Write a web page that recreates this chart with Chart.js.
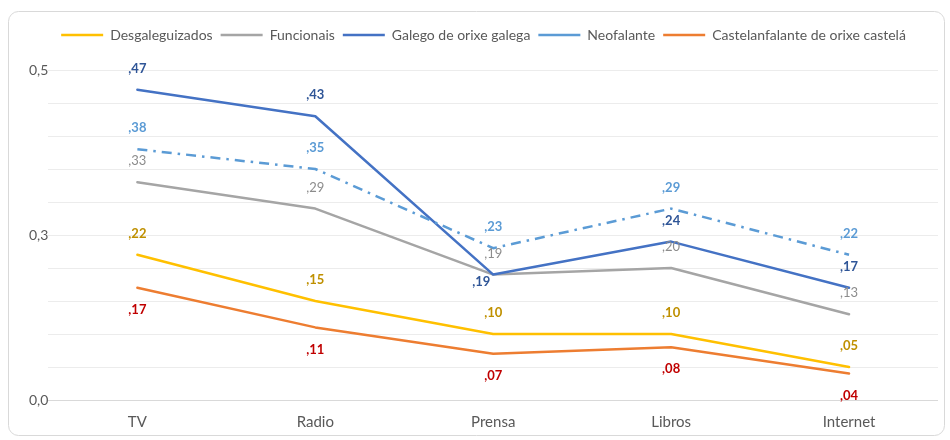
<!DOCTYPE html>
<html>
<head>
<meta charset="utf-8">
<script src="https://cdn.jsdelivr.net/npm/chart.js@4/dist/chart.umd.min.js"></script>
<style>
  html, body { margin: 0; padding: 0; background: #ffffff; }
  #wrap { position: relative; width: 950px; height: 440px; }
</style>
</head>
<body>
<div id="wrap"><canvas id="chart" width="950" height="440"></canvas></div>
<script>
// Media categories
const categories = ['TV', 'Radio', 'Prensa', 'Libros', 'Internet'];

// Share per profile and medium
const desgaleguizados = [0.22, 0.15, 0.10, 0.10, 0.05];
const funcionais      = [0.33, 0.29, 0.19, 0.20, 0.13];
const galegoOrixe     = [0.47, 0.43, 0.19, 0.24, 0.17];
const neofalante      = [0.38, 0.35, 0.23, 0.29, 0.22];
const castelanOrixe   = [0.17, 0.11, 0.07, 0.08, 0.04];

// Y axis: gridline every 0.05, labelled ticks only
const yTickValues = [0, 0.25, 0.5];
const yTickLabels = ['0,0', '0,3', '0,5'];

const FONT = 'Lato, "Liberation Sans", sans-serif';

function fmtShare(v) {
  return v.toFixed(2).replace(/^0\./, ',');
}

// Value labels drawn next to each point
const valueLabels = {
  id: 'valueLabels',
  afterDatasetsDraw(chart) {
    const ctx = chart.ctx;
    chart.data.datasets.forEach((ds, di) => {
      const meta = chart.getDatasetMeta(di);
      const lab = ds.valueLabel;
      meta.data.forEach((pt, i) => {
        let dx = 0, dy = lab.below ? 22 : -21;
        if (lab.shift && lab.shift[i]) { dx = lab.shift[i][0]; dy = lab.shift[i][1]; }
        ctx.save();
        ctx.font = (lab.bold ? 'bold ' : '') + '13px ' + FONT;
        ctx.fillStyle = lab.color;
        ctx.textAlign = 'center';
        ctx.textBaseline = 'middle';
        ctx.fillText(fmtShare(ds.data[i]), pt.x + dx, pt.y + dy);
        ctx.restore();
      });
    });
  }
};

// Extra space between the legend and the plot area
const legendGap = {
  id: 'legendGap',
  beforeUpdate(chart) {
    const lg = chart.legend;
    if (lg && !lg._gapPatched) {
      const fit = lg.fit;
      lg.fit = function () { fit.call(this); this.height += 18; };
      lg._gapPatched = true;
    }
  }
};

// Rounded frame around the chart
const frame = {
  id: 'frame',
  beforeDraw(chart) {
    const ctx = chart.ctx;
    ctx.save();
    ctx.fillStyle = '#ffffff';
    ctx.fillRect(0, 0, chart.width, chart.height);
    ctx.strokeStyle = '#d9d9d9';
    ctx.lineWidth = 1;
    ctx.beginPath();
    ctx.roundRect(8.5, 11.5, 936, 424, 10);
    ctx.stroke();
    ctx.restore();
  }
};

function series(label, data, color, labelColor, extra) {
  return Object.assign({
    label: label,
    data: data,
    borderColor: color,
    backgroundColor: color,
    borderWidth: 2.5,
    pointRadius: 0,
    pointHoverRadius: 0,
    tension: 0,
    fill: false,
    borderJoinStyle: 'round',
    borderCapStyle: 'round',
    valueLabel: { color: labelColor, bold: true }
  }, extra || {});
}

const datasets = [
  series('Desgaleguizados', desgaleguizados, '#FFC000', '#BF9000', { order: 5 }),
  series('Funcionais', funcionais, '#A5A5A5', '#8c8c8c', { order: 4, valueLabel: { color: '#8c8c8c', bold: false } }),
  series('Galego de orixe galega', galegoOrixe, '#4472C4', '#2F5597', {
    order: 3,
    valueLabel: { color: '#2F5597', bold: true, shift: { 2: [-12, 7] } }
  }),
  series('Neofalante', neofalante, '#5B9BD5', '#5B9BD5', { order: 2, borderDash: [10, 6, 2.5, 6], borderCapStyle: 'butt' }),
  series('Castelanfalante de orixe castelá', castelanOrixe, '#ED7D31', '#C00000', {
    order: 1,
    valueLabel: { color: '#C00000', bold: true, below: true }
  })
];

new Chart(document.getElementById('chart'), {
  type: 'line',
  data: { labels: categories, datasets: datasets },
  plugins: [frame, legendGap, valueLabels],
  options: {
    responsive: false,
    animation: false,
    events: [],
    layout: { padding: { left: 29, right: 12, top: 20, bottom: -4 } },
    plugins: {
      tooltip: { enabled: false },
      legend: {
        position: 'top',
        labels: {
          usePointStyle: true,
          pointStyleWidth: 42,
          pointStyle: 'line',
          boxHeight: 14,
          padding: 8,
          color: '#595959',
          font: { family: FONT, size: 14 },
          sort: (a, b) => a.datasetIndex - b.datasetIndex
        }
      }
    },
    scales: {
      x: {
        offset: true,
        grid: { display: false, drawTicks: false },
        border: { display: false },
        ticks: { color: '#595959', font: { family: FONT, size: 15 }, padding: 13 }
      },
      y: {
        min: 0,
        max: 0.5,
        border: { display: false },
        grid: {
          drawTicks: false,
          color: (c) => (c.tick && c.tick.value === 0 ? '#d9d9d9' : '#ececec'),
          lineWidth: 1
        },
        ticks: {
          stepSize: 0.05,
          autoSkip: false,
          padding: 0,
          color: '#595959',
          font: { family: FONT, size: 14 },
          callback: (v) => {
            const k = yTickValues.findIndex(t => Math.abs(t - v) < 1e-9);
            return k >= 0 ? yTickLabels[k] : '';
          }
        }
      }
    }
  }
});
</script>
</body>
</html>
